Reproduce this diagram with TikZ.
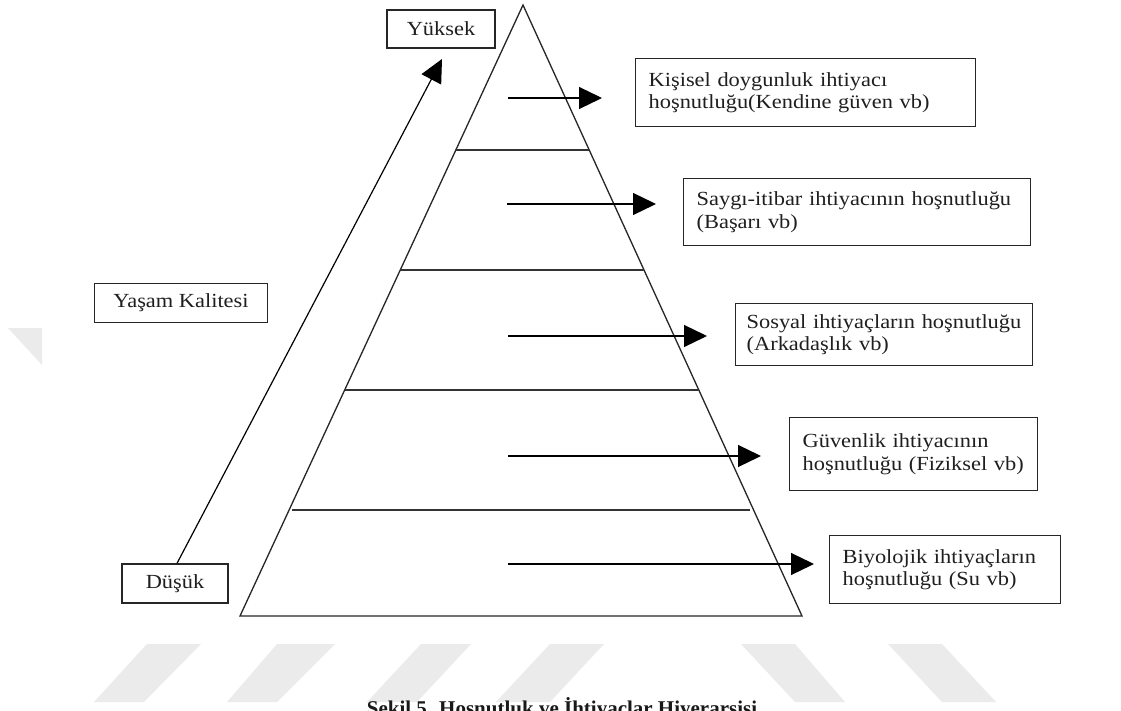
\documentclass[tikz,border=0pt]{standalone}
\usepackage{fontspec}
\setmainfont{Liberation Serif}
\newfontfamily\wideserif{Liberation Serif}[FakeStretch=1.12]
\newcommand\nohyphens{\hyphenpenalty=10000 \exhyphenpenalty=10000\relax}
\usetikzlibrary{arrows.meta}
\begin{document}
\begin{tikzpicture}[x=1pt,y=-1pt,
  box/.style={draw=black!85, line width=1.3pt, inner xsep=13pt, inner ysep=0pt,
    font=\wideserif\fontsize{20}{22.5}\selectfont\nohyphens,
    align=left, anchor=north west, text=black!88},
  lbox/.style={draw=black!85, line width=1.3pt, inner sep=0pt,
    font=\wideserif\fontsize{20}{22.5}\selectfont, align=center, text=black!88},
  lev/.style={draw=black!80, line width=1.2pt},
  arr/.style={draw=black, line width=1.2pt, -{Triangle[length=23pt,width=22pt]}},
  wm/.style={fill=black!8, draw=none}]
\clip (0,0) rectangle (1121,711);
\fill[white] (0,0) rectangle (1121,711);
% watermark
\fill[wm] (147,644) -- (201,644) -- (144,702) -- (94,702) -- cycle;
\fill[wm] (277,644) -- (335,644) -- (277,702) -- (227,702) -- cycle;
\fill[wm] (421,644) -- (471,644) -- (417,702) -- (367,702) -- cycle;
\fill[wm] (550,644) -- (604,644) -- (550,702) -- (496,702) -- cycle;
\fill[wm] (741,644) -- (795,644) -- (845,702) -- (795,702) -- cycle;
\fill[wm] (888,644) -- (942,644) -- (996,702) -- (942,702) -- cycle;
\fill[wm] (8,328) -- (42,328) -- (42,365) -- cycle;
% pyramid
\coordinate (apex) at (523,5);
\coordinate (bl) at (240,616);
\coordinate (br) at (802,616);
\draw[line width=1.3pt, black!85, line join=miter] (apex) -- (bl) -- (br) -- cycle;
\draw[lev] (456,150) -- (589,150);
\draw[lev] (400,270) -- (644,270);
\draw[lev] (345,390) -- (699,390);
\draw[lev] (292,510) -- (750,510);
% right boxes
\node[box, minimum width=340pt, minimum height=68pt, text width=314pt] (b1) at (635,58)
  {Kişisel doygunluk ihtiyacı\\hoşnutluğu(Kendine güven vb)};
\node[box, minimum width=347pt, minimum height=67pt, text width=321pt] (b2) at (683,178)
  {Saygı-itibar ihtiyacının hoşnutluğu\\(Başarı vb)};
\node[box, inner xsep=11pt, minimum width=297pt, minimum height=62pt, text width=275pt] (b3) at (735,303)
  {Sosyal ihtiyaçların hoşnutluğu\\(Arkadaşlık vb)};
\node[box, minimum width=246pt, minimum height=73pt, text width=222pt] (b4) at (789,417)
  {Güvenlik ihtiyacının\\hoşnutluğu (Fiziksel vb)};
\node[box, minimum width=228pt, minimum height=68pt, text width=205pt] (b5) at (829,535)
  {Biyolojik ihtiyaçların\\hoşnutluğu (Su vb)};
% arrows
\coordinate (s1) at (508,98);  \coordinate (e1) at (602,98);
\coordinate (s2) at (507,204); \coordinate (e2) at (656,204);
\coordinate (s3) at (508,336); \coordinate (e3) at (707,336);
\coordinate (s4) at (508,456); \coordinate (e4) at (761,456);
\coordinate (s5) at (508,564); \coordinate (e5) at (814,564);
\draw[arr] (s1) -- (e1);
\draw[arr] (s2) -- (e2);
\draw[arr] (s3) -- (e3);
\draw[arr] (s4) -- (e4);
\draw[arr] (s5) -- (e5);
% left side
\node[lbox, minimum width=108pt, minimum height=38pt] (hi) at (441,29) {Yüksek};
\node[lbox, minimum width=173pt, minimum height=39pt] (qual) at (181,303) {Yaşam Kalitesi};
\node[lbox, minimum width=106pt, minimum height=39pt] (lo) at (175,583.5) {Düşük};
\coordinate (tipq) at (442,59);
\draw[arr] (lo.north) ++(2,0) coordinate (qs) -- (tipq);
% caption
\node[font=\fontsize{21}{25}\selectfont\bfseries, anchor=base, text=black!90] (cap) at (562,715)
  {Şekil 5. Hoşnutluk ve İhtiyaçlar Hiyerarşisi};
\end{tikzpicture}
\end{document}
